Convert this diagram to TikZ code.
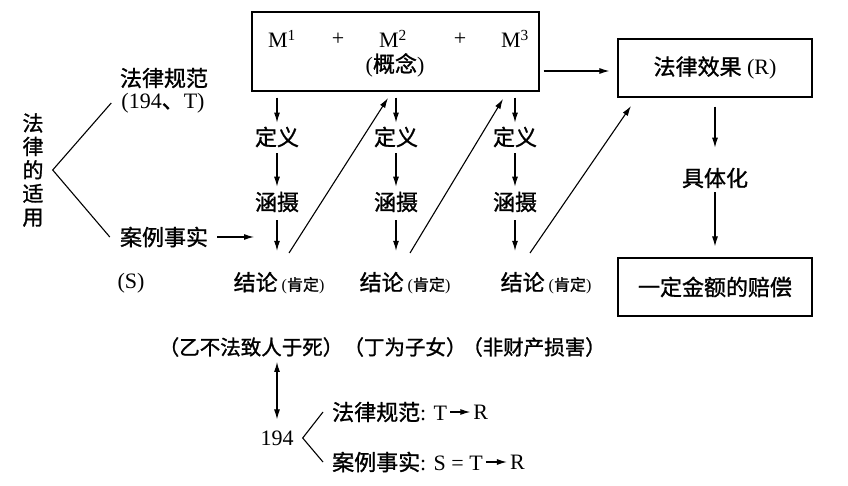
\documentclass[tikz,border=0pt]{standalone}
\usepackage{fontspec}
\setmainfont{Liberation Serif}
\newfontfamily\zhfont{Noto Sans CJK SC}[FakeBold=1.2]
\newcommand{\zh}[1]{{\zhfont #1}}
\usetikzlibrary{arrows.meta, positioning}

\begin{document}
\begin{tikzpicture}[
      x=1pt, y=-1pt,
      frame/.style={draw, line width=1.2pt, minimum width=#1, minimum height=58pt},
      lbl/.style={inner sep=1pt, font=\fontsize{22}{24}\selectfont},
      arr/.style={-{Latex[length=10pt, width=6pt]}, line width=1.1pt},
      bar/.style={line width=1.1pt}
    ]
      \useasboundingbox (0,0) rectangle (848,486);

      % concepts
      \node[frame=287pt, minimum height=79pt] (con) at (395.5,51.5) {};
      \node[lbl] (m1) at (282,39) {M\textsuperscript{1}};
      \node[lbl] (p1) at (338,39) {+};
      \node[lbl] (m2) at (393,39) {M\textsuperscript{2}};
      \node[lbl] (p2) at (460,39) {+};
      \node[lbl] (m3) at (515,39) {M\textsuperscript{3}};
      \node[lbl] (mc) at (395,65) {(\zh{概念})};

      % legal effect
      \node[frame=194pt, lbl] (res) at (715,68) {\zh{法律效果} (R)};
      \node[lbl] (spec) at (715,178) {\zh{具体化}};
      \node[frame=194pt, lbl] (pay) at (715,287) {\zh{一定金额的赔偿}};

      % application of law
      \node[lbl, align=center, font=\fontsize{21}{23.5}\selectfont] (app) at (33,170) {\zh{法}\\\zh{律}\\\zh{的}\\\zh{适}\\\zh{用}};
      \node[lbl, inner sep=0pt] (norm) at (164,78) {\zh{法律规范}};
      \node[lbl, inner sep=0pt] (ref) at (163,103) {(194\zh{、}T)};
      \node[lbl] (fact) at (164,237) {\zh{案例事实}};
      \node[lbl] (s) at (131,283) {(S)};
      \coordinate (fe) at (254,237);

      % three steps
      \node[lbl] (d1) at (277,137) {\zh{定义}};
      \node[lbl] (d2) at (396,137) {\zh{定义}};
      \node[lbl] (d3) at (515,137) {\zh{定义}};
      \node[lbl] (h1) at (277,202) {\zh{涵摄}};
      \node[lbl] (h2) at (396,202) {\zh{涵摄}};
      \node[lbl] (h3) at (515,202) {\zh{涵摄}};
      \node[lbl] (c1) at (279,283) {\zh{结论}\hspace{4pt}{\fontsize{16}{18}\selectfont(\zh{肯定})}};
      \node[lbl] (c2) at (405,283) {\zh{结论}\hspace{4pt}{\fontsize{16}{18}\selectfont(\zh{肯定})}};
      \node[lbl] (c3) at (546,283) {\zh{结论}\hspace{4pt}{\fontsize{16}{18}\selectfont(\zh{肯定})}};
      \node[lbl, font=\fontsize{20.5}{24}\selectfont] (b1) at (251,347) {\zh{（乙不法致人于死）}};
      \node[lbl, font=\fontsize{20.5}{24}\selectfont] (b2) at (405,347) {\zh{（丁为子女）}};
      \node[lbl, font=\fontsize{20.5}{24}\selectfont] (b3) at (534,347) {\zh{（非财产损害）}};

      \coordinate (s1) at (289,253);
      \coordinate (s2) at (410,253);
      \coordinate (s3) at (530,253);
      \coordinate (e1) at (388,98);
      \coordinate (e2) at (503,99);
      \coordinate (e3) at (631,106);

      % article 194
      \node[lbl] (num) at (277,438) {194};
      \node[lbl, anchor=west] (la) at (331,412) {\zh{法律规范}: T};
      \node[lbl, right=24pt of la] (lr) {R};
      \node[lbl, anchor=west] (fb) at (331,462) {\zh{案例事实}: S = T};
      \node[lbl, right=25pt of fb] (fr) {R};

      \draw[arr, shorten <=4pt, shorten >=8pt] ([yshift=-3pt]con.east |- res.west) -- ([yshift=-3pt]res.west);
      \draw[arr, shorten <=9pt, shorten >=19pt] (res.south) -- (spec);
      \draw[arr, shorten <=3pt, shorten >=11pt] (spec) -- (pay.north);

      \draw[bar] ([xshift=-10pt]ref.west) -- ([xshift=8pt]app.east) -- ([xshift=-9pt]fact.west);
      \draw[arr, shorten <=8pt] (fact.east) -- (fe);

      \draw[arr, shorten <=6pt, shorten >=3pt] (d1 |- con.south) -- (d1);
      \draw[arr, shorten <=6pt, shorten >=3pt] (d2 |- con.south) -- (d2);
      \draw[arr, shorten <=6pt, shorten >=3pt] (d3 |- con.south) -- (d3);
      \draw[arr, shorten <=5pt, shorten >=4pt] (d1) -- (h1);
      \draw[arr, shorten <=5pt, shorten >=4pt] (d2) -- (h2);
      \draw[arr, shorten <=5pt, shorten >=4pt] (d3) -- (h3);
      \draw[arr, shorten <=7pt, shorten >=20pt] (h1) -- (h1 |- c1.north);
      \draw[arr, shorten <=7pt, shorten >=20pt] (h2) -- (h2 |- c2.north);
      \draw[arr, shorten <=7pt, shorten >=20pt] (h3) -- (h3 |- c3.north);
      \draw[arr] (s1) -- (e1);
      \draw[arr] (s2) -- (e2);
      \draw[arr] (s3) -- (e3);

      \draw[{Latex[length=10pt, width=6pt]}-{Latex[length=10pt, width=6pt]}, line width=1.1pt, shorten <=4pt, shorten >=10pt] (num |- b1.south) -- (num);
      \draw[bar] ([xshift=-8pt]la.west) -- ([xshift=8pt]num.east) -- ([xshift=-8pt]fb.west);
      \draw[arr, shorten <=2pt, shorten >=2pt] (la) -- (lr);
      \draw[arr, shorten <=2pt, shorten >=2pt] (fb) -- (fr);
    \end{tikzpicture}
\end{document}
